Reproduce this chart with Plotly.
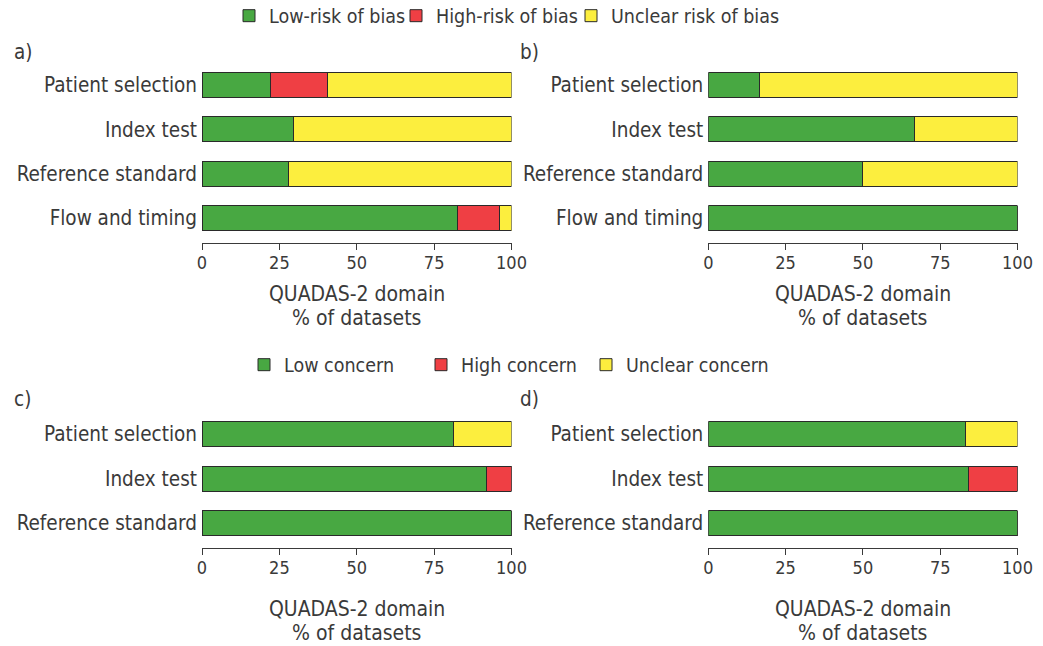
import plotly.graph_objects as go

# ---- data ----
domains_ab = ["Patient selection", "Index test", "Reference standard", "Flow and timing"]
domains_cd = ["Patient selection", "Index test", "Reference standard"]

a_low = [22.2, 29.6, 27.8, 82.5]
a_high = [18.5, 0, 0, 13.5]
a_unclear = [59.3, 70.4, 72.2, 4.0]

b_low = [16.7, 66.7, 50.0, 100]
b_high = [0, 0, 0, 0]
b_unclear = [83.3, 33.3, 50.0, 0]

c_low = [81.1, 91.9, 100]
c_high = [0, 8.1, 0]
c_unclear = [18.9, 0, 0]

d_low = [83.3, 84.0, 100]
d_high = [0, 16.0, 0]
d_unclear = [16.7, 0, 0]

bias_names = ["Low-risk of bias", "High-risk of bias", "Unclear risk of bias"]
concern_names = ["Low concern", "High concern", "Unclear concern"]
x_ticks = [0, 25, 50, 75, 100]
axis_title_lines = ["QUADAS-2 domain", "% of datasets"]

GREEN = "#48a842"
RED = "#ef3f44"
YELLOW = "#fcee3e"
EDGE = "#2a2a2a"
TXT = "#3a3a3a"
FONT = "Liberation Sans Narrow, DejaVu Sans Condensed, Roboto"
FS_LAB = 20.5
FS_TICK = 18
FS_TITLE = 21
FS_LEG = 19.5

W, H = 1043, 646

def px_x(p):
    return p / W

def px_y(p):
    return 1 - p / H

fig = go.Figure()

def add_panel(xa, ya, cats, low, high, unclear, names, legends, show):
    for vals, col, nm, lg in zip([low, high, unclear], [GREEN, RED, YELLOW], names, legends):
        fig.add_trace(go.Bar(
            y=cats, x=vals, orientation="h", name=nm,
            marker=dict(color=col, line=dict(color=EDGE, width=1)),
            width=0.56, xaxis=xa, yaxis=ya, legend=lg,
            showlegend=show, hoverinfo="x+y+name",
        ))

top_leg = ["legend", "legend2", "legend3"]
bot_leg = ["legend4", "legend5", "legend6"]
add_panel("x", "y", domains_ab, a_low, a_high, a_unclear, bias_names, top_leg, True)
add_panel("x2", "y2", domains_ab, b_low, b_high, b_unclear, bias_names, top_leg, False)
add_panel("x3", "y3", domains_cd, c_low, c_high, c_unclear, concern_names, bot_leg, True)
add_panel("x4", "y4", domains_cd, d_low, d_high, d_unclear, concern_names, bot_leg, False)

left_dom = [px_x(202), px_x(511.5)]
right_dom = [px_x(708.3), px_x(1017.5)]
top_dom = [px_y(243), px_y(62.75)]
bot_dom = [px_y(548), px_y(411.75)]

xcommon = dict(range=[0, 100], tickvals=x_ticks, ticks="outside", ticklen=6,
               tickcolor=TXT, showline=True, linecolor=TXT, linewidth=1,
               showgrid=False, zeroline=False, automargin=False, ticklabelstandoff=-3,
               tickfont=dict(size=FS_TICK, color=TXT, family=FONT), fixedrange=True)
ycommon = dict(showgrid=False, zeroline=False, showline=False, ticks="",
               automargin=False, ticklabelstandoff=4,
               tickfont=dict(size=FS_LAB, color=TXT, family=FONT), fixedrange=True)

def leg(xpx, ypx):
    return dict(orientation="h", x=px_x(xpx), xanchor="left", y=px_y(ypx), yanchor="middle",
                itemwidth=30, font=dict(size=FS_LEG, color=TXT, family=FONT),
                bgcolor="rgba(0,0,0,0)", itemclick=False, itemdoubleclick=False)

LEG_D = 21  # offset from legend box left to symbol left
fig.update_layout(
    xaxis=dict(domain=left_dom, anchor="y", **xcommon),
    xaxis2=dict(domain=right_dom, anchor="y2", **xcommon),
    xaxis3=dict(domain=left_dom, anchor="y3", **xcommon),
    xaxis4=dict(domain=right_dom, anchor="y4", **xcommon),
    yaxis=dict(domain=top_dom, anchor="x", categoryorder="array", categoryarray=domains_ab,
               range=[3.56, -0.5], **ycommon),
    yaxis2=dict(domain=top_dom, anchor="x2", categoryorder="array", categoryarray=domains_ab,
                range=[3.56, -0.5], **ycommon),
    yaxis3=dict(domain=bot_dom, anchor="x3", categoryorder="array", categoryarray=domains_cd,
                range=[2.56, -0.5], **ycommon),
    yaxis4=dict(domain=bot_dom, anchor="x4", categoryorder="array", categoryarray=domains_cd,
                range=[2.56, -0.5], **ycommon),
    barmode="stack",
    width=W, height=H,
    margin=dict(l=0, r=0, t=0, b=0, autoexpand=False),
    paper_bgcolor="white", plot_bgcolor="white",
    font=dict(family=FONT, size=FS_LAB, color=TXT),
    legend=leg(250 - LEG_D, 16),
    legend2=leg(417 - LEG_D, 16),
    legend3=leg(592 - LEG_D, 16),
    legend4=leg(265 - LEG_D, 365),
    legend5=leg(442 - LEG_D, 365),
    legend6=leg(607 - LEG_D, 365),
    showlegend=True,
)

annots = []
for label, x, y in [("a)", 12, 52), ("b)", 518, 52), ("c)", 12, 399), ("d)", 518, 399)]:
    annots.append(dict(text=label, x=px_x(x), y=px_y(y), xref="paper", yref="paper",
                       xanchor="left", yanchor="middle", showarrow=False,
                       font=dict(size=FS_LAB, color=TXT, family=FONT)))
for cx, ys in [((202 + 511.5) / 2, (294, 318)), ((708.3 + 1017.5) / 2, (294, 318)),
               ((202 + 511.5) / 2, (609, 633)), ((708.3 + 1017.5) / 2, (609, 633))]:
    for line, y in zip(axis_title_lines, ys):
        annots.append(dict(text=line, x=px_x(cx), y=px_y(y),
                           xref="paper", yref="paper", xanchor="center", yanchor="middle",
                           showarrow=False, font=dict(size=FS_TITLE, color=TXT, family=FONT)))
fig.update_layout(annotations=annots)

fig.write_html("out.html", config={"displayModeBar": False},
               post_script="document.body.style.margin='0px';document.body.style.overflow='hidden';")
